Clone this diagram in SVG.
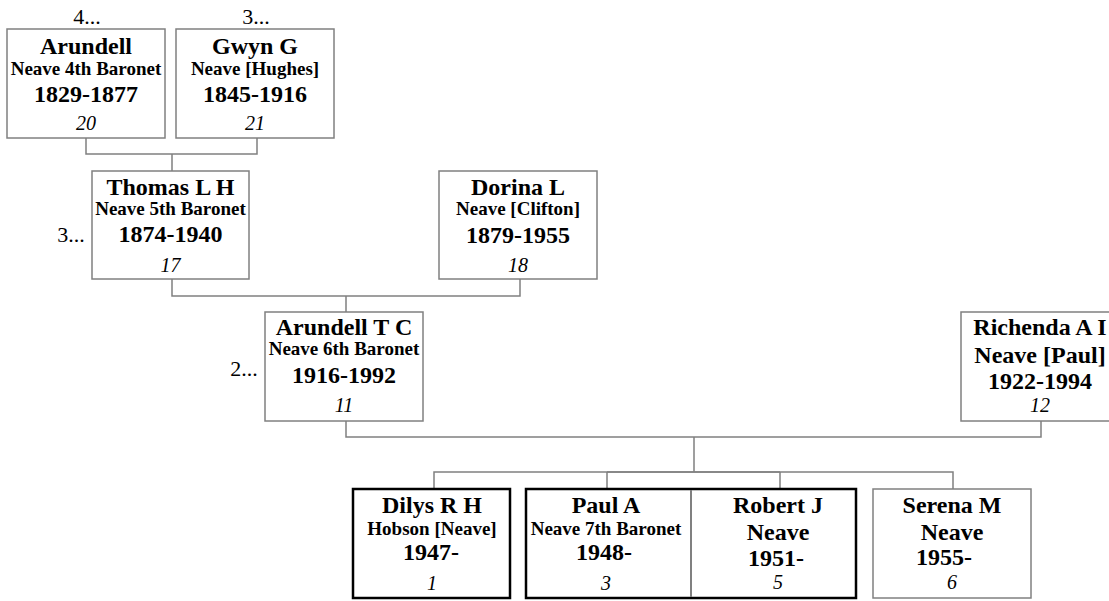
<svg xmlns="http://www.w3.org/2000/svg" width="1109" height="601" viewBox="0 0 1109 601">
<style>
text{font-family:"Liberation Serif","Times New Roman",serif;text-anchor:middle;fill:#000}
.nm{font-size:24px;font-weight:bold}
.sb{font-size:19px;font-weight:bold}
.yr{font-size:24px;font-weight:bold}
.no{font-size:20px;font-style:italic}
.lb{font-size:22px}
.box{fill:#fff;stroke:#808080;stroke-width:1.5}
.hl{fill:#fff;stroke:#000;stroke-width:2.5}
.ln{fill:none;stroke:#808080;stroke-width:1.5}
</style>
<rect width="1109" height="601" fill="#fff"/>
<g id="connectors">
<path class="ln" d="M86,138V154H257V138M172,154V171"/>
<path class="ln" d="M172,279V296H520V279M346,296V312"/>
<path class="ln" d="M346,421V437H1041V421M694,437V472"/>
<path class="ln" d="M434,489V472H953V489M607,472V489M780,472V489"/>
<path class="ln" d="M607,472H780" stroke="#666"/>
</g>
<g id="labels">
<text class="lb" x="87" y="24">4...</text>
<text class="lb" x="256" y="24">3...</text>
<text class="lb" x="71" y="242">3...</text>
<text class="lb" x="244" y="376">2...</text>
</g>
<g id="n20">
<rect class="box" x="7" y="29" width="158" height="109"/>
<text class="nm" x="86" y="54">Arundell</text>
<text class="sb" x="86" y="75">Neave 4th Baronet</text>
<text class="yr" x="86" y="102">1829-1877</text>
<text class="no" x="86" y="130">20</text>
</g>
<g id="n21">
<rect class="box" x="176" y="29" width="158" height="109"/>
<text class="nm" x="255" y="54">Gwyn G</text>
<text class="sb" x="255" y="75">Neave [Hughes]</text>
<text class="yr" x="255" y="102">1845-1916</text>
<text class="no" x="255" y="130">21</text>
</g>
<g id="n17">
<rect class="box" x="92" y="171" width="157" height="108"/>
<text class="nm" x="170.5" y="195">Thomas L H</text>
<text class="sb" x="170.5" y="215">Neave 5th Baronet</text>
<text class="yr" x="170.5" y="242">1874-1940</text>
<text class="no" x="170.5" y="272">17</text>
</g>
<g id="n18">
<rect class="box" x="439" y="171" width="158" height="108"/>
<text class="nm" x="518" y="195">Dorina L</text>
<text class="sb" x="518" y="215">Neave [Clifton]</text>
<text class="yr" x="518" y="243">1879-1955</text>
<text class="no" x="518" y="272">18</text>
</g>
<g id="n11">
<rect class="box" x="265" y="312" width="158" height="109"/>
<text class="nm" x="344" y="335">Arundell T C</text>
<text class="sb" x="344" y="355">Neave 6th Baronet</text>
<text class="yr" x="344" y="383">1916-1992</text>
<text class="no" x="344" y="412">11</text>
</g>
<g id="n12">
<rect class="box" x="961" y="312" width="158" height="109"/>
<text class="nm" x="1040" y="335">Richenda A I</text>
<text class="nm" x="1040" y="363">Neave [Paul]</text>
<text class="yr" x="1040" y="389">1922-1994</text>
<text class="no" x="1040" y="412">12</text>
</g>
<g id="n1">
<rect class="hl" x="353" y="489" width="157" height="109"/>
<text class="nm" x="432" y="513">Dilys R H</text>
<text class="sb" x="432" y="535">Hobson [Neave]</text>
<text class="yr" x="431" y="560">1947-</text>
<text class="no" x="432" y="590">1</text>
</g>
<g id="n3">
<rect class="hl" x="526" y="489" width="330" height="109"/>
<line x1="691" y1="490" x2="691" y2="597" stroke="#808080" stroke-width="2"/>
<text class="nm" x="606" y="513">Paul A</text>
<text class="sb" x="606" y="535">Neave 7th Baronet</text>
<text class="yr" x="604" y="560">1948-</text>
<text class="no" x="606" y="590">3</text>
</g>
<g id="n5">
<text class="nm" x="778" y="513">Robert J</text>
<text class="nm" x="778" y="540">Neave</text>
<text class="yr" x="776" y="566">1951-</text>
<text class="no" x="778" y="589">5</text>
</g>
<g id="n6">
<rect class="box" x="873" y="489" width="158" height="109"/>
<text class="nm" x="952" y="513">Serena M</text>
<text class="nm" x="952" y="540">Neave</text>
<text class="yr" x="944" y="565">1955-</text>
<text class="no" x="952" y="589">6</text>
</g>
</svg>
